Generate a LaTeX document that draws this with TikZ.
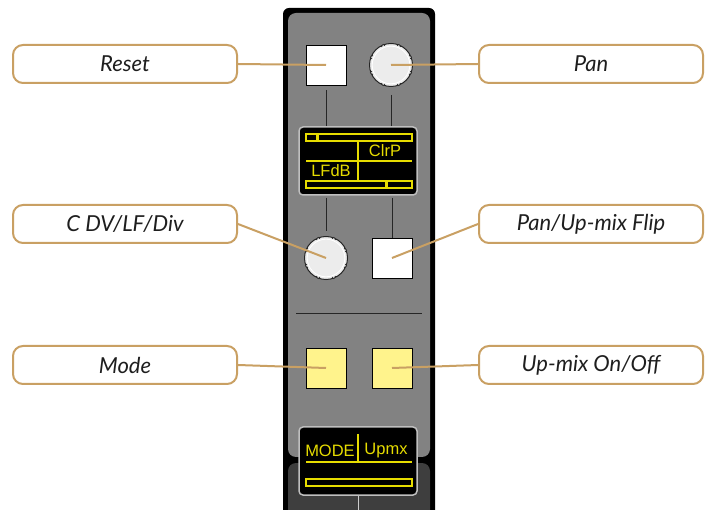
\documentclass[tikz,border=0pt]{standalone}
\usepackage{fontspec}
\setmainfont{Lato}
\newfontfamily\lcdfont{Liberation Sans}
\definecolor{tanline}{HTML}{C9A063}
\definecolor{panelgray}{HTML}{828282}
\definecolor{basegray}{HTML}{3E3E3E}
\definecolor{knobgray}{HTML}{ECECEC}
\definecolor{lcdyellow}{HTML}{E6DC00}
\definecolor{keyyellow}{HTML}{FFF38C}
\definecolor{labeltext}{HTML}{1E1E1E}

\tikzset{
  labelbox/.style={draw=tanline, line width=2pt, rounded corners=10pt, fill=white,
    minimum width=224pt, minimum height=38pt, text=labeltext,
    font=\itshape\fontsize{22}{24}\selectfont},
  leader/.style={tanline, line width=2pt},
  keybox/.style={draw=black, line width=0.8pt, fill=white, minimum size=40pt, inner sep=0},
  ykey/.style={keybox, fill=keyyellow},
  knob/.style={circle, draw=black!85, line width=1pt, fill=knobgray, minimum size=43pt, inner sep=0},
  lcd/.style={draw=black!25, line width=1.5pt, fill=black, rounded corners=4pt,
    minimum width=118pt, minimum height=68pt},
  lcdline/.style={lcdyellow, line width=1.2pt},
  lcdtext/.style={text=lcdyellow, inner sep=0, font=\lcdfont\fontsize{16.5}{18}\selectfont},
  wire/.style={black!85, line width=0.8pt}
}

% knurled rim and white ring of a knob node
\newcommand{\knurl}[1]{%
  \foreach \a in {22.5,67.5,...,337.5}
    \filldraw[black!85, fill=knobgray, line width=0.7pt] ([shift={(\a:20.3)}]#1.center) circle (1.8);
  \fill[knobgray] (#1.center) circle (20);
  \draw[white, line width=0.8pt] (#1.center) circle (18.8);
}

\begin{document}
\begin{tikzpicture}[x=1pt, y=-1pt]
\useasboundingbox (0,0) rectangle (707,510);

% Strip
\fill[black, rounded corners=6pt] (283,8) rectangle (435,530);
\fill[panelgray, rounded corners=8pt] (288,13) rectangle (430,457);
\fill[basegray, rounded corners=8pt] (288,463) rectangle (430,530);

% Controls
\node[keybox] (reset) at (326,65) {};
\node[knob] (pan) at (391,65) {};
\knurl{pan}
\node[knob] (cdv) at (326,258) {};
\knurl{cdv}
\node[keybox] (flip) at (392,258) {};
\node[ykey] (mode) at (326,368) {};
\node[ykey] (upmix) at (392,368) {};

% ---------- Upper display ----------
\node[lcd] (disp1) at (358,161) {};
\draw[lcdline] (306,134) rectangle (412,141);
\fill[lcdyellow] (316,134) rectangle (319,141);
\draw[lcdline] (306,161) -- (412,161);
\draw[lcdline] (358,141) -- (358,181);
\draw[lcdline] (306,181) rectangle (412,188);
\fill[lcdyellow] (385,181) rectangle (388,188);
\node[lcdtext] (clrp) at (385,151) {ClrP};
\node[lcdtext] (lfdb) at (331,171) {LFdB};

% ---------- Lower display ----------
\node[lcd] (disp2) at (358,461) {};
\draw[lcdline] (358,434) -- (358,462);
\draw[lcdline] (306,462) -- (412,462);
\draw[lcdline] (306,479) rectangle (412,486);
\node[lcdtext] (modetxt) at (330,451) {MODE};
\node[lcdtext] (upmxtxt) at (386,451) {Upmx};
\draw[black!20, line width=0.8pt] (disp2.south) -- (358,510);

% Wires between controls
\draw[wire] ([yshift=-5pt]reset.south) -- (reset |- disp1.north);
\draw[wire] ([yshift=-8pt]pan.south) -- (pan |- disp1.north);
\draw[wire] ([yshift=-2pt]disp1.south -| cdv) -- ([yshift=5pt]cdv.north);
\draw[wire] ([yshift=-2pt]disp1.south -| flip) -- (flip.north);
\draw[wire] (296,313) -- (422,313);

% ---------- Labels ----------
\node[labelbox] (lreset) at (125,64) {Reset};
\node[labelbox] (lpan) at (591,64) {Pan};
\node[labelbox] (lcdv) at (125,224) {C DV/LF/Div};
\node[labelbox] (lflip) at (591,224) {Pan/Up-mix Flip};
\node[labelbox] (lmode) at (125,365) {Mode};
\node[labelbox] (lupmix) at (591,365) {Up-mix On/Off};

\draw[leader] (lreset.east) -- (reset.center);
\draw[leader] (lpan.west) -- (pan.center);
\draw[leader] (lcdv.east) -- (cdv.center);
\draw[leader] (lflip.west) -- (flip.center);
\draw[leader] (lmode.east) -- (mode.center);
\draw[leader] (lupmix.west) -- (upmix.center);

\end{tikzpicture}
\end{document}
